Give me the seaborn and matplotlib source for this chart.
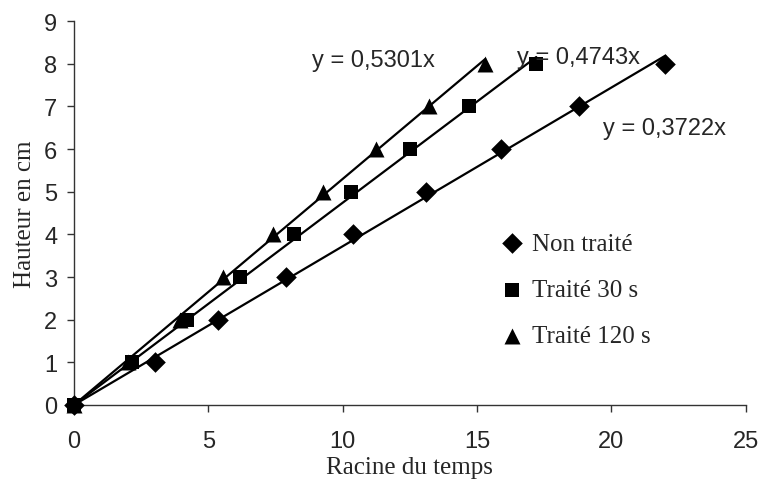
import matplotlib
matplotlib.use("Agg")
import matplotlib.pyplot as plt
import seaborn as sns
import numpy as np
import pandas as pd

# data
heights = [0, 1, 2, 3, 4, 5, 6, 7, 8]
x_non_traite = [0, 3.0, 5.35, 7.9, 10.4, 13.1, 15.9, 18.8, 22.0]
x_traite_30 = [0, 2.15, 4.2, 6.17, 8.2, 10.3, 12.5, 14.7, 17.2]
x_traite_120 = [0, 2.0, 3.95, 5.55, 7.4, 9.25, 11.25, 13.2, 15.3]
series_names = ["Non traité", "Traité 30 s", "Traité 120 s"]
slopes = [0.3722, 0.4743, 0.5301]
eq_labels = ["y = 0,3722x", "y = 0,4743x", "y = 0,5301x"]
eq_pos = [(19.7, 6.5), (16.5, 8.15), (8.85, 8.1)]

df = pd.concat([
    pd.DataFrame({"x": xs, "y": heights, "serie": name})
    for xs, name in zip([x_non_traite, x_traite_30, x_traite_120], series_names)
])

sns.set_style("ticks")
plt.rcParams['font.family'] = ['Liberation Sans', 'DejaVu Sans']

fig = plt.figure(figsize=(7.58, 4.81), dpi=100)
ax = fig.add_axes([0.0976, 0.156, 0.8864, 0.798])

# trend lines through the origin (Excel style)
for xs, name, a in zip([x_non_traite, x_traite_30, x_traite_120], series_names, slopes):
    fx = np.array([0, max(xs)])
    sns.lineplot(x=fx, y=a * fx, ax=ax, color="black", linewidth=1.6, zorder=2)

markers = {"Non traité": "D", "Traité 30 s": "s", "Traité 120 s": "^"}
sizes = {"Non traité": 10.5, "Traité 30 s": 10.5, "Traité 120 s": 11.5}
for name in series_names:
    sub = df[df["serie"] == name]
    sns.scatterplot(data=sub, x="x", y="y", ax=ax, marker=markers[name],
                    color="black", s=sizes[name] ** 2, edgecolor="black",
                    linewidth=0, label=name, zorder=3)

for txt, (tx, ty) in zip(eq_labels, eq_pos):
    ax.text(tx, ty, txt, fontsize=17, va="center", ha="left",
            family=['Liberation Sans', 'DejaVu Sans'])

ax.set_xlim(0, 25)
ax.set_ylim(0, 9)
ax.set_xticks([0, 5, 10, 15, 20, 25])
ax.set_yticks(range(10))
ax.tick_params(axis="both", labelsize=17, length=5, width=1, color="#333333")
ax.tick_params(axis="x", pad=13)
ax.tick_params(axis="y", pad=7)
sns.despine(ax=ax)
for s in ["left", "bottom"]:
    ax.spines[s].set_color("#333333")
    ax.spines[s].set_linewidth(1)
for c in ax.collections:
    c.set_clip_on(False)

ax.set_xlabel("Racine du temps", fontsize=18, family=['Liberation Serif'], labelpad=3)
ax.set_ylabel("Hauteur en cm", fontsize=18, family=['Liberation Serif'], labelpad=6)

leg = ax.legend(loc="center left", bbox_to_anchor=(0.596, 0.3), frameon=False,
                prop={'family': 'Liberation Serif', 'size': 18},
                labelspacing=0.95, handletextpad=0.2, handlelength=1.2)

fig.savefig("out.png", dpi=100)
